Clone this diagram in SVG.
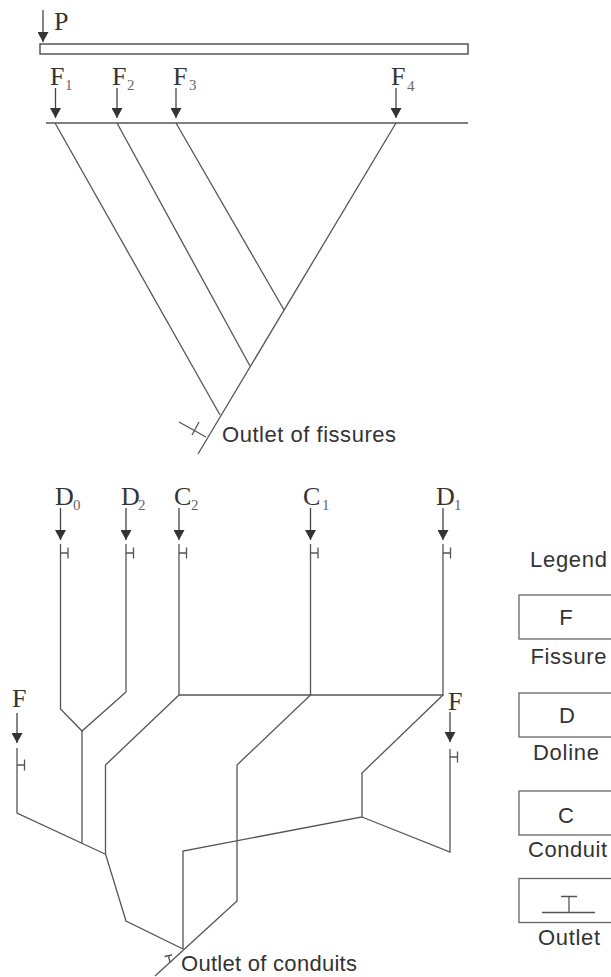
<svg xmlns="http://www.w3.org/2000/svg" width="611" height="977" viewBox="0 0 611 977">
  <style>
    .ln { fill: none; stroke: #555; stroke-width: 1.3; stroke-linejoin: miter; }
    .ar { fill: none; stroke: #444; stroke-width: 1.3; marker-end: url(#head); }
    .box { fill: #fff; stroke: #666; stroke-width: 1.3; }
    .lab { font-family: "Liberation Serif", "DejaVu Serif", serif; font-size: 26px; fill: #333; }
    .sub { font-family: "Liberation Serif", "DejaVu Serif", serif; font-size: 15px; fill: #666; }
    .txt { font-family: "Liberation Sans", Arial, sans-serif; font-size: 22px; fill: #333; }
    .leg { font-family: "Liberation Sans", Arial, sans-serif; font-size: 22px; fill: #333; }
  </style>
  <defs>
    <marker id="head" markerUnits="userSpaceOnUse" markerWidth="11" markerHeight="11" refX="10" refY="5.5" orient="auto" viewBox="0 0 11 11">
      <path d="M0,0 L10,5.5 L0,11 z" fill="#333"/>
    </marker>
    <!-- outlet tick on a vertical conduit: stub to the right plus short bar -->
    <path id="tick" d="M0,0 h7.5 M7.5,-5.5 v11" fill="none" stroke="#555" stroke-width="1.3"/>
  </defs>

  <!-- ===== Upper scheme: fissure system ===== -->
  <g id="precipitation">
    <line class="ar" x1="43" y1="10" x2="43" y2="42"/>
    <text class="lab" x="54" y="30">P</text>
  </g>
  <g id="surface-layer">
    <rect x="40" y="44" width="428" height="10" fill="#fff" stroke="#555" stroke-width="1.5"/>
  </g>
  <g id="F1">
    <line class="ar" x1="55.5" y1="88" x2="55.5" y2="118"/>
    <text class="lab" x="50" y="85">F</text><text class="sub" x="65" y="90">1</text>
  </g>
  <g id="F2">
    <line class="ar" x1="117" y1="88" x2="117" y2="118"/>
    <text class="lab" x="112" y="85">F</text><text class="sub" x="127" y="90">2</text>
  </g>
  <g id="F3">
    <line class="ar" x1="176" y1="88" x2="176" y2="118"/>
    <text class="lab" x="173" y="85">F</text><text class="sub" x="189" y="90">3</text>
  </g>
  <g id="F4">
    <line class="ar" x1="396" y1="88" x2="396" y2="118"/>
    <text class="lab" x="391" y="85">F</text><text class="sub" x="407" y="91">4</text>
  </g>
  <g id="fissure-outlet">
    <path class="ln" d="M206,437 L179,422 M192,435 L199,422"/>
    <text class="txt" x="222" y="442" textLength="174" lengthAdjust="spacing">Outlet of fissures</text>
  </g>

  <g id="fissure-connectors">
    <line class="ln" x1="46" y1="123" x2="468" y2="123"/>
    <path class="ln" d="M55,123 L220,415"/>
    <path class="ln" d="M117,123 L250,366"/>
    <path class="ln" d="M176,123 L284,310"/>
    <path class="ln" d="M396,123 L198,454"/>
  </g>

  <!-- ===== Lower scheme: conduit system ===== -->
  <g id="D0">
    <line class="ar" x1="60.5" y1="508" x2="60.5" y2="540"/>
    <text class="lab" x="55" y="505">D</text><text class="sub" x="73" y="510">0</text>
    <use href="#tick" x="60.5" y="553"/>
  </g>
  <g id="D2">
    <line class="ar" x1="126" y1="508" x2="126" y2="540"/>
    <text class="lab" x="121" y="505">D</text><text class="sub" x="138" y="510">2</text>
    <use href="#tick" x="126" y="553"/>
  </g>
  <g id="C2">
    <line class="ar" x1="179" y1="508" x2="179" y2="540"/>
    <text class="lab" x="174" y="505">C</text><text class="sub" x="191" y="510">2</text>
    <use href="#tick" x="179" y="553"/>
  </g>
  <g id="C1">
    <line class="ar" x1="310.5" y1="508" x2="310.5" y2="540"/>
    <text class="lab" x="303" y="505">C</text><text class="sub" x="322" y="510">1</text>
    <use href="#tick" x="310.5" y="553"/>
  </g>
  <g id="D1">
    <line class="ar" x1="443" y1="508" x2="443" y2="540"/>
    <text class="lab" x="436" y="505">D</text><text class="sub" x="454" y="510">1</text>
    <use href="#tick" x="443" y="553"/>
  </g>
  <g id="F-left">
    <line class="ar" x1="17" y1="713" x2="17" y2="743"/>
    <text class="lab" x="12" y="707">F</text>
    <use href="#tick" x="17" y="765"/>
  </g>
  <g id="F-right">
    <line class="ar" x1="450" y1="712" x2="450" y2="742"/>
    <text class="lab" x="448" y="710">F</text>
    <use href="#tick" x="450" y="757"/>
  </g>
  <g id="conduit-outlet">
    <path class="ln" d="M164.5,956.5 L172,955 M168.5,956 L170,962"/>
    <text class="txt" x="181" y="971" font-size="21" textLength="176" lengthAdjust="spacing">Outlet of conduits</text>
  </g>

  <g id="conduit-connectors">
    <!-- D0 and D2 merge -->
    <path class="ln" d="M60.5,544 V709 L82,731 L126,692 V544"/>
    <path class="ln" d="M82,731 V843"/>
    <!-- left fissure -->
    <path class="ln" d="M17,748 V813 L105,854"/>
    <!-- C2 and the cross link to C1 and D1 -->
    <path class="ln" d="M179,544 V695 H443 V544"/>
    <path class="ln" d="M179,695 L105.5,765 V854 L126,921 L183,949"/>
    <!-- C1 branch -->
    <path class="ln" d="M310.5,544 V695 L237,765 V901 L155,976"/>
    <!-- D1 branch and right fissure -->
    <path class="ln" d="M443,695 L362,773 V817 L183,851 V949"/>
    <path class="ln" d="M362,817 L450,852 V749"/>
  </g>

  <!-- ===== Legend ===== -->
  <g id="legend">
    <text class="leg" x="530" y="567" textLength="77" lengthAdjust="spacing">Legend</text>
  </g>
  <g id="legend-fissure">
    <rect class="box" x="519" y="595" width="120" height="44"/>
    <text class="txt" x="566" y="625" text-anchor="middle">F</text>
    <text class="leg" x="530.5" y="664" textLength="76" lengthAdjust="spacing">Fissure</text>
  </g>
  <g id="legend-doline">
    <rect class="box" x="519" y="693" width="120" height="44"/>
    <text class="txt" x="567" y="723" text-anchor="middle">D</text>
    <text class="leg" x="533" y="760" textLength="66" lengthAdjust="spacing">Doline</text>
  </g>
  <g id="legend-conduit">
    <rect class="box" x="519" y="791" width="120" height="44"/>
    <text class="txt" x="566" y="823" text-anchor="middle">C</text>
    <text class="leg" x="528" y="857" textLength="79" lengthAdjust="spacing">Conduit</text>
  </g>
  <g id="legend-outlet">
    <rect class="box" x="519" y="878.5" width="120" height="44"/>
    <path class="ln" d="M542,912.5 H595 M569,912.5 V896.5 M561,896.5 H577"/>
    <text class="leg" x="538" y="945" textLength="62" lengthAdjust="spacing">Outlet</text>
  </g>
</svg>
